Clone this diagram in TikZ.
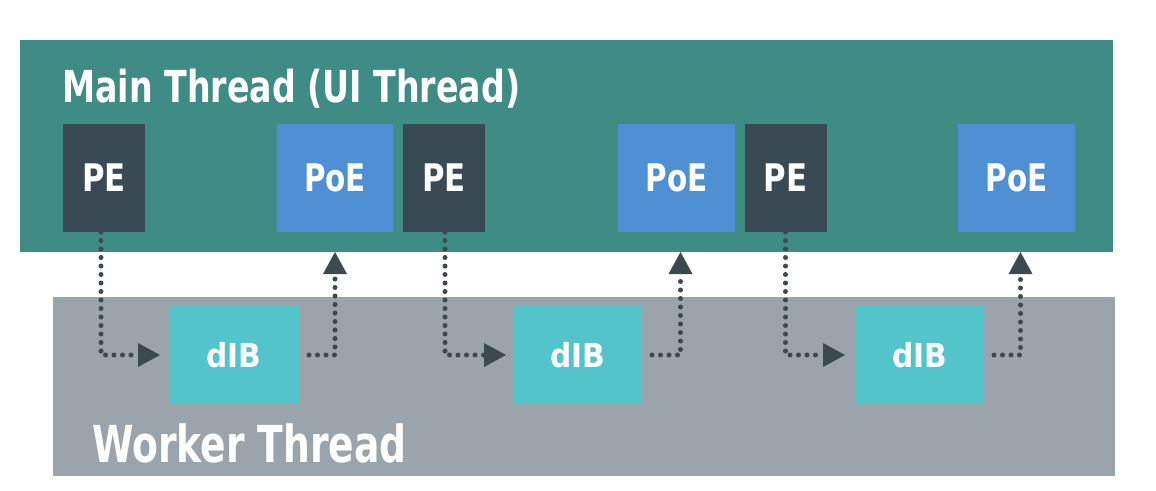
\documentclass[tikz,border=0pt]{standalone}
\usepackage{fontspec}
\usepackage{graphicx}
\newfontfamily\cond[BoldFont={DejaVu Sans Condensed Bold}]{DejaVu Sans Condensed}
\usetikzlibrary{arrows.meta,calc}
\newcommand\mynarrow[2]{\scalebox{#1}[1]{#2}}
\definecolor{mainc}{HTML}{3E8C84}
\definecolor{workc}{HTML}{9AA4AA}
\definecolor{pec}{HTML}{3A4A53}
\definecolor{poec}{HTML}{4F8FD3}
\definecolor{dibc}{HTML}{52C4CA}
\definecolor{arrc}{HTML}{3C4A50}
\tikzset{
  lane/.style={inner sep=0pt, outer sep=0pt},
  box/.style={inner sep=0pt, outer sep=0pt, text=white, font=\cond\bfseries\fontsize{38pt}{40pt}\selectfont},
  pebox/.style={box, fill=pec, minimum width=82pt, minimum height=108pt},
  poebox/.style={box, fill=poec, minimum width=117pt, minimum height=108pt},
  dibbox/.style={box, fill=dibc, minimum width=129pt, minimum height=98pt, font=\cond\bfseries\fontsize{33pt}{36pt}\selectfont},
  dots/.style={draw=arrc, line width=5pt, line cap=round, dash pattern=on 0pt off 8.5pt,
    -{Triangle[length=22pt,width=24pt,line width=0pt]}, arrc},
  title/.style={anchor=base west, inner sep=0pt, text=white}
}
\begin{document}
\begin{tikzpicture}[x=1pt,y=-1pt]
\useasboundingbox[fill=white] (0,0) rectangle (1156,490);
% lanes
\node[lane, fill=mainc, minimum width=1093pt, minimum height=212pt] (main) at (566.5,146) {};
\node[lane, fill=workc, minimum width=1062pt, minimum height=179pt] (work) at (584,386.5) {};
\node[title, font=\cond\bfseries\fontsize{44pt}{48pt}\selectfont] (mt) at (62,102) {\mynarrow{0.84}{Main Thread (UI Thread)}};
\node[title, font=\cond\bfseries\fontsize{51pt}{55pt}\selectfont] (wt) at (92,462) {\mynarrow{0.82}{Worker Thread}};
% main thread boxes
\node[pebox] (pe1) at (104,178) {\mynarrow{0.9}{PE}};
\node[poebox, minimum width=116pt] (poe1) at (335,178) {\mynarrow{0.86}{PoE}};
\node[pebox] (pe2) at (444,178) {\mynarrow{0.9}{PE}};
\node[poebox] (poe2) at (676.5,178) {\mynarrow{0.86}{PoE}};
\node[pebox] (pe3) at (785.5,178) {\mynarrow{0.9}{PE}};
\node[poebox] (poe3) at (1016.5,178) {\mynarrow{0.86}{PoE}};
% worker boxes
\node[dibbox, minimum width=130pt] (dib1) at (234,355) {dIB};
\node[dibbox] (dib2) at (577.5,355) {dIB};
\node[dibbox, minimum width=128pt] (dib3) at (920,355) {dIB};
% connectors
\draw[dots] ([xshift=-3pt]pe1.south) |- ([xshift=-9pt]dib1.west);
\draw[dots] ([xshift=10pt]dib1.east) -| (poe1.south |- main.south);
\draw[dots] ([xshift=1pt]pe2.south) |- ([xshift=-7pt]dib2.west);
\draw[dots] ([xshift=10pt]dib2.east) -| ([xshift=4pt]poe2.south |- main.south);
\draw[dots] (pe3.south) |- ([xshift=-11pt]dib3.west);
\draw[dots] ([xshift=10pt]dib3.east) -| ([xshift=4pt]poe3.south |- main.south);
\end{tikzpicture}
\end{document}
